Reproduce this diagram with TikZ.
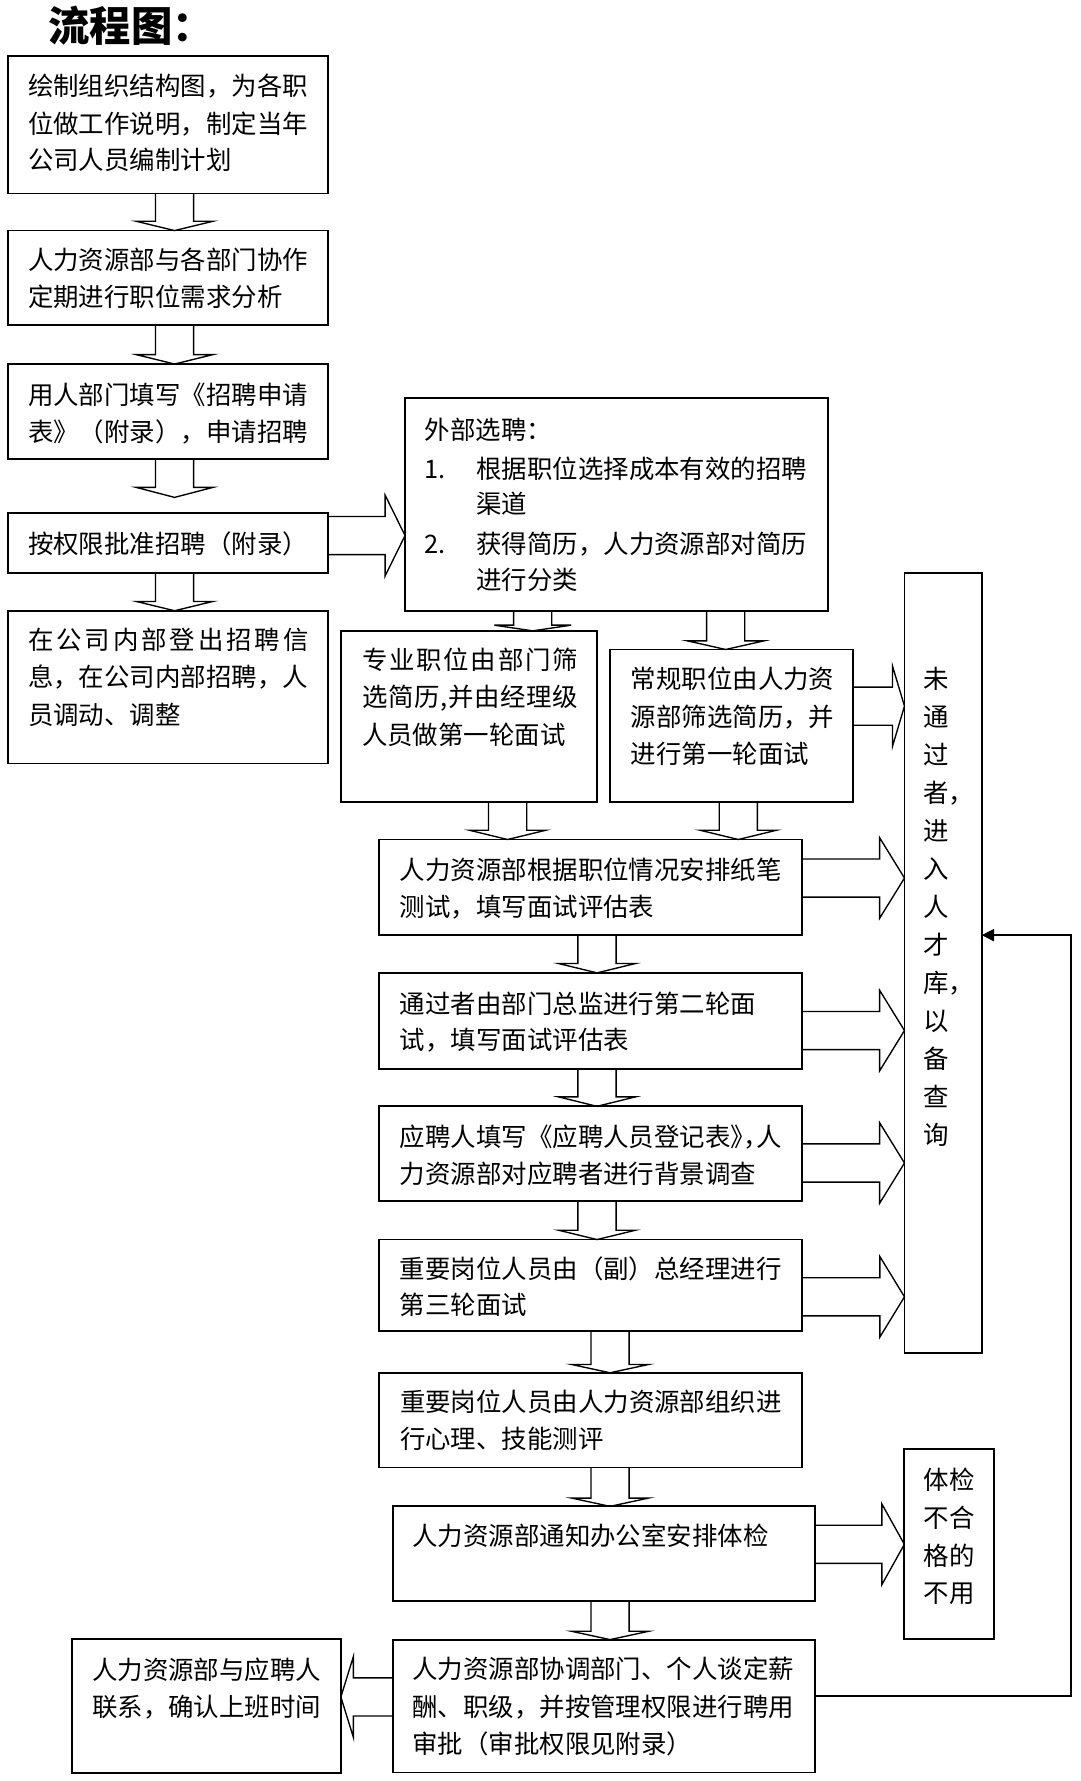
\documentclass[tikz,border=0pt]{standalone}
\usepackage{fontspec}
\setmainfont{Noto Sans CJK SC}
\usetikzlibrary{calc,arrows.meta}
\def\shaftw{16.8}
\def\headw{33.8}
\def\hheadw{35.5}
\long\def\mygobble#1{}
\long\def\myfirst#1{#1}
\def\spreadloop#1#2{#1\ifx\relax#2\expandafter\mygobble\else\hfill\expandafter\myfirst\fi{\spreadloop#2}}
\newcommand\spreadto[2]{\makebox[#1][s]{\spreadloop#2\relax}}
\newcommand\mybox[5]{%
  \pgfmathsetmacro\myBW{(#4-#2)*0.5}\pgfmathsetmacro\myBH{(#5-#3)*0.5}%
  \node[box, minimum width=\myBW pt, minimum height=\myBH pt] (#1) at ({(#2+#4)/2},{(#3+#5)/2}) {};}
\newcommand\tx[4]{\node[txt] (#1) at (#2,#3) {#4};}
% down block arrow: src, dst, cx, head length, tip gap
\newcommand\darr[5]{%
  \draw[blk] let \p1=(#1.south), \p2=(#2.north) in
  ({(#3-\shaftw)*0.5pt},\y1) -- ({(#3-\shaftw)*0.5pt},{\y2+(#4+#5)*0.5pt})
  -- ({(#3-\headw)*0.5pt},{\y2+(#4+#5)*0.5pt}) -- ({#3*0.5pt},{\y2+#5*0.5pt})
  -- ({(#3+\headw)*0.5pt},{\y2+(#4+#5)*0.5pt}) -- ({(#3+\shaftw)*0.5pt},{\y2+(#4+#5)*0.5pt})
  -- ({(#3+\shaftw)*0.5pt},\y1);}
% right block arrow: src, dst, cy, head length
\newcommand\rarr[4]{%
  \draw[blk] let \p1=(#1.east), \p2=(#2.west) in
  (\x1,{-(#3-\shaftw)*0.5pt}) -- ({\x2-#4*0.5pt},{-(#3-\shaftw)*0.5pt})
  -- ({\x2-#4*0.5pt},{-(#3-\hheadw)*0.5pt}) -- (\x2,{-#3*0.5pt})
  -- ({\x2-#4*0.5pt},{-(#3+\hheadw)*0.5pt}) -- ({\x2-#4*0.5pt},{-(#3+\shaftw)*0.5pt})
  -- (\x1,{-(#3+\shaftw)*0.5pt});}
% left block arrow: src, dst, cy, head length
\newcommand\larr[4]{%
  \draw[blk] let \p1=(#1.west), \p2=(#2.east) in
  (\x1,{-(#3-\shaftw)*0.5pt}) -- ({\x2+#4*0.5pt},{-(#3-\shaftw)*0.5pt})
  -- ({\x2+#4*0.5pt},{-(#3-\hheadw)*0.5pt}) -- (\x2,{-#3*0.5pt})
  -- ({\x2+#4*0.5pt},{-(#3+\hheadw)*0.5pt}) -- ({\x2+#4*0.5pt},{-(#3+\shaftw)*0.5pt})
  -- (\x1,{-(#3+\shaftw)*0.5pt});}
\begin{document}
\begin{tikzpicture}[x=0.5pt,y=-0.5pt,
  box/.style={draw, line width=0.8pt, rectangle, inner sep=0pt, outer sep=0pt},
  txt/.style={anchor=west, inner sep=0pt, font=\fontsize{11.2}{13}\selectfont, text height=9.86pt, text depth=1.34pt},
  ttl/.style={anchor=west, inner sep=0pt, font=\fontsize{18.2}{20}\selectfont\bfseries, text height=16pt, text depth=2.2pt},
  blk/.style={draw, line width=0.6pt, line join=miter},
  fb/.style={draw, line width=0.7pt, -{Triangle[length=5.4pt,width=5.4pt]}}]
\useasboundingbox (0,0) rectangle (951,1568);
\fill[white] (0,0) rectangle (951,1568);

\node[ttl] (title) at (42.4,22.7) {流程图：};

% boxes
\mybox{b1}{6.7}{49.3}{289}{170.3}
\mybox{b2}{6.7}{203}{289}{286}
\mybox{b3}{6.7}{320.5}{289}{404.2}
\mybox{b4}{6.7}{451.4}{289}{504.8}
\mybox{b5}{6.7}{537.7}{289}{672.2}
\mybox{ext}{356.6}{350.7}{728.8}{537.8}
\mybox{b6}{300}{555.4}{525.4}{706}
\mybox{b7}{537.1}{571.8}{751.1}{706}
\mybox{pool}{796.3}{504.2}{864.4}{1191.2}
\mybox{b8}{333.6}{739.1}{706.2}{823.4}
\mybox{b9}{333.6}{856.5}{706.2}{940.8}
\mybox{b10}{333.6}{974}{706.2}{1057.6}
\mybox{b11}{334}{1091.3}{706}{1171.5}
\mybox{b12}{334}{1208.6}{706}{1292}
\mybox{b13}{345.7}{1326.2}{717.7}{1409.7}
\mybox{tj}{796.2}{1276}{875.3}{1442.7}
\mybox{b15}{345.7}{1443.5}{717.7}{1560.5}
\mybox{b16}{63.2}{1442.9}{300.1}{1560.7}

% texts
\tx{b1a}{24.3}{75.4}{绘制组织结构图，为各职}
\tx{b1b}{24.3}{108.6}{位做工作说明，制定当年}
\tx{b1c}{24.3}{141}{公司人员编制计划}
\tx{b2a}{24.3}{229}{人力资源部与各部门协作}
\tx{b2b}{24.3}{261}{定期进行职位需求分析}
\tx{b3a}{24.3}{347.8}{用人部门填写《招聘申请}
\tx{b3b}{24.3}{380.1}{表》（附录），申请招聘}
\tx{b4a}{24.3}{478.4}{按权限批准招聘（附录）}
\tx{b5a}{24.3}{563.5}{\spreadto{123.5pt}{在公司内部登出招聘信}}
\tx{b5b}{24.3}{595.8}{息，在公司内部招聘，人}
\tx{b5c}{24.3}{629.6}{员调动、调整}
\tx{exa}{373.5}{378.6}{外部选聘：}
\tx{exn1}{373.5}{412.4}{1.}
\tx{exb}{419}{412.4}{根据职位选择成本有效的招聘}
\tx{exc}{419}{443.2}{渠道}
\tx{exn2}{373.5}{478.4}{2.}
\tx{exd}{419}{478.4}{获得简历，人力资源部对简历}
\tx{exe}{419}{510.7}{进行分类}
\tx{b6a}{318.4}{581}{\spreadto{95pt}{专业职位由部门筛}}
\tx{b6b}{318.4}{613.5}{\spreadto{95pt}{选简历,并由经理级}}
\tx{b6c}{318.4}{647.2}{人员做第一轮面试}
\tx{b7a}{555}{598}{常规职位由人力资}
\tx{b7b}{555}{631}{源部筛选简历，并}
\tx{b7c}{555}{664}{进行第一轮面试}
\foreach \c [count=\i from 0] in {未,通,过,者，,进,入,人,才,库，,以,备,查,询}
  \node[txt] (pool\i) at (812.3,{597.3+33.5*\i}) {\c};
\tx{b8a}{351.7}{766.1}{人力资源部根据职位情况安排纸笔}
\tx{b8b}{351.7}{798.4}{测试，填写面试评估表}
\tx{b9a}{351.7}{883.5}{通过者由部门总监进行第二轮面}
\tx{b9b}{351.7}{915.8}{试，填写面试评估表}
\tx{b10a}{351.7}{1000.9}{应聘人填写《应聘人员登记表\makebox[0.5em][l]{》}\makebox[0.5em][l]{，}人}
\tx{b10b}{351.7}{1033.2}{力资源部对应聘者进行背景调查}
\tx{b11a}{351.7}{1116.9}{重要岗位人员由（副）总经理进行}
\tx{b11b}{351.7}{1149.1}{第三轮面试}
\tx{b12a}{351.8}{1234.3}{重要岗位人员由人力资源部组织进}
\tx{b12b}{351.8}{1266.6}{行心理、技能测评}
\tx{b13a}{362.7}{1351.7}{人力资源部通知办公室安排体检}
\tx{tja}{812.8}{1302.7}{体检}
\tx{tjb}{812.8}{1336}{不合}
\tx{tjc}{812.8}{1369.4}{格的}
\tx{tjd}{812.8}{1402}{不用}
\tx{b15a}{362.7}{1469.1}{人力资源部协调部门、个人谈定薪}
\tx{b15b}{362.7}{1502.3}{酬、职级，并按管理权限进行聘用}
\tx{b15c}{362.7}{1535.2}{审批（审批权限见附录）}
\tx{b16a}{80.7}{1470}{人力资源部与应聘人}
\tx{b16b}{80.7}{1503}{联系，确认上班时间}

% down block arrows
\darr{b1}{b2}{153.7}{8.2}{0}
\darr{b2}{b3}{153.7}{8.3}{0}
\darr{b3}{b4}{153.7}{8.8}{13.5}
\darr{b4}{b5}{153.7}{8.2}{0}
\darr{ext}{b6}{469}{5}{0}
\darr{ext}{b7}{638.9}{7.6}{0}
\darr{b6}{b8}{446.9}{8.2}{0}
\darr{b7}{b8}{650}{8.2}{0}
\darr{b8}{b9}{525.6}{8.2}{0}
\darr{b9}{b10}{525.6}{8.3}{0}
\darr{b10}{b11}{525.6}{8.2}{0}
\darr{b11}{b12}{537.1}{7.3}{0}
\darr{b12}{b13}{537.1}{7.3}{0}
\darr{b13}{b15}{537.1}{7.3}{0}

% side block arrows
\rarr{b4}{ext}{471.5}{17.5}
\rarr{b7}{pool}{621.7}{10.6}
\rarr{b8}{pool}{773}{21.9}
\rarr{b9}{pool}{907.3}{21.9}
\rarr{b10}{pool}{1023.9}{21.9}
\rarr{b11}{pool}{1141.7}{21.7}
\rarr{b13}{tj}{1359.6}{19.8}
\larr{b15}{b16}{1494}{11}

% feedback line
\coordinate (fbc) at (943,823.3);
\draw[fb] ([yshift=4.35pt]b15.east) -| (fbc) -- ([yshift=12.2pt]pool.east);
\end{tikzpicture}
\end{document}
